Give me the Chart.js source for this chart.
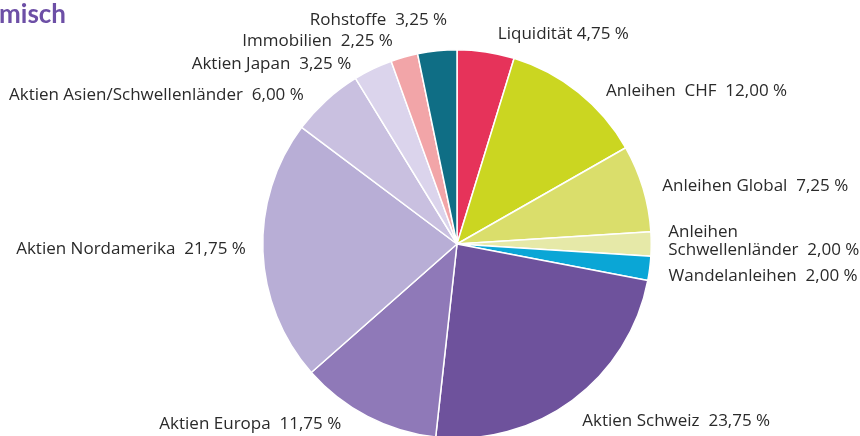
<!DOCTYPE html>
<html>
<head>
<meta charset="utf-8">
<script src="https://cdn.jsdelivr.net/npm/chart.js@4"></script>
<style>
  html, body { margin: 0; padding: 0; background: #fff; overflow: hidden; }
  #wrap { position: relative; width: 860px; height: 436px; overflow: hidden; }
  #title { position: absolute; left: -1px; top: -3px; font: bold 26px Lato, sans-serif; color: #6d4fa6; }
  canvas { position: absolute; left: 0; top: 0; }
</style>
</head>
<body>
<div id="wrap">
  <canvas id="myChart" width="860" height="440"></canvas>
  <div id="title">misch</div>
</div>
<script>
const categories = [
  'Liquidität',
  'Anleihen  CHF',
  'Anleihen Global',
  'Anleihen\nSchwellenländer',
  'Wandelanleihen',
  'Aktien Schweiz',
  'Aktien Europa',
  'Aktien Nordamerika',
  'Aktien Asien/Schwellenländer',
  'Aktien Japan',
  'Immobilien',
  'Rohstoffe',
];
const shares = [4.75, 12.0, 7.25, 2.0, 2.0, 23.75, 11.75, 21.75, 6.0, 3.25, 2.25, 3.25];
const sliceColors = [
  '#e6335a', '#cbd621', '#dade6b', '#e6e9a8', '#0aa6d6', '#6e529c',
  '#8f79b8', '#b8aed6', '#c9c0e0', '#dbd4ec', '#f2a5a8', '#0f6e85',
];

// small label nudges so the outside labels don't collide
const labelNudge = [
  [9, 2], [15, 14], [0, 4], [-3, -3], [-1, 5], [-2, 5],
  [-17, -10], [3, -3], [-9, 10], [-13, 13], [-6, 3], [12, -11],
];

const formatShare = (v) => v.toFixed(2).replace('.', ',') + ' %';

const outsideLabels = {
  id: 'outsideLabels',
  afterDatasetsDraw(chart) {
    const ctx = chart.ctx;
    const arcs = chart.getDatasetMeta(0).data;
    ctx.save();
    ctx.font = '17px "Open Sans", sans-serif';
    ctx.fillStyle = '#2a2a2a';
    ctx.textBaseline = 'middle';
    arcs.forEach((arc, i) => {
      const { x, y, startAngle, endAngle, outerRadius } = arc.getProps(
        ['x', 'y', 'startAngle', 'endAngle', 'outerRadius'],
        true
      );
      const mid = (startAngle + endAngle) / 2;
      const r = outerRadius + 20;
      const px = x + Math.cos(mid) * r + labelNudge[i][0];
      const py = y + Math.sin(mid) * r + labelNudge[i][1];
      ctx.textAlign = Math.cos(mid) >= -0.01 ? 'left' : 'right';
      const lines = categories[i].split('\n');
      const gap = i === 0 ? ' ' : '  ';
      lines[lines.length - 1] += gap + formatShare(shares[i]);
      const lh = 18;
      const top = py - ((lines.length - 1) * lh) / 2;
      lines.forEach((line, j) => ctx.fillText(line, px, top + j * lh));
    });
    ctx.restore();
  },
};

const ctx = document.getElementById('myChart').getContext('2d');
new Chart(ctx, {
  type: 'pie',
  data: {
    labels: categories,
    datasets: [
      {
        data: shares,
        backgroundColor: sliceColors,
        borderColor: '#fff',
        borderWidth: 1.5,
      },
    ],
  },
  options: {
    responsive: false,
    animation: false,
    layout: { padding: { left: 262, right: 208, top: 49, bottom: 1 } },
    plugins: {
      legend: { display: false },
      tooltip: { enabled: false },
    },
  },
  plugins: [outsideLabels],
});
</script>
</body>
</html>
